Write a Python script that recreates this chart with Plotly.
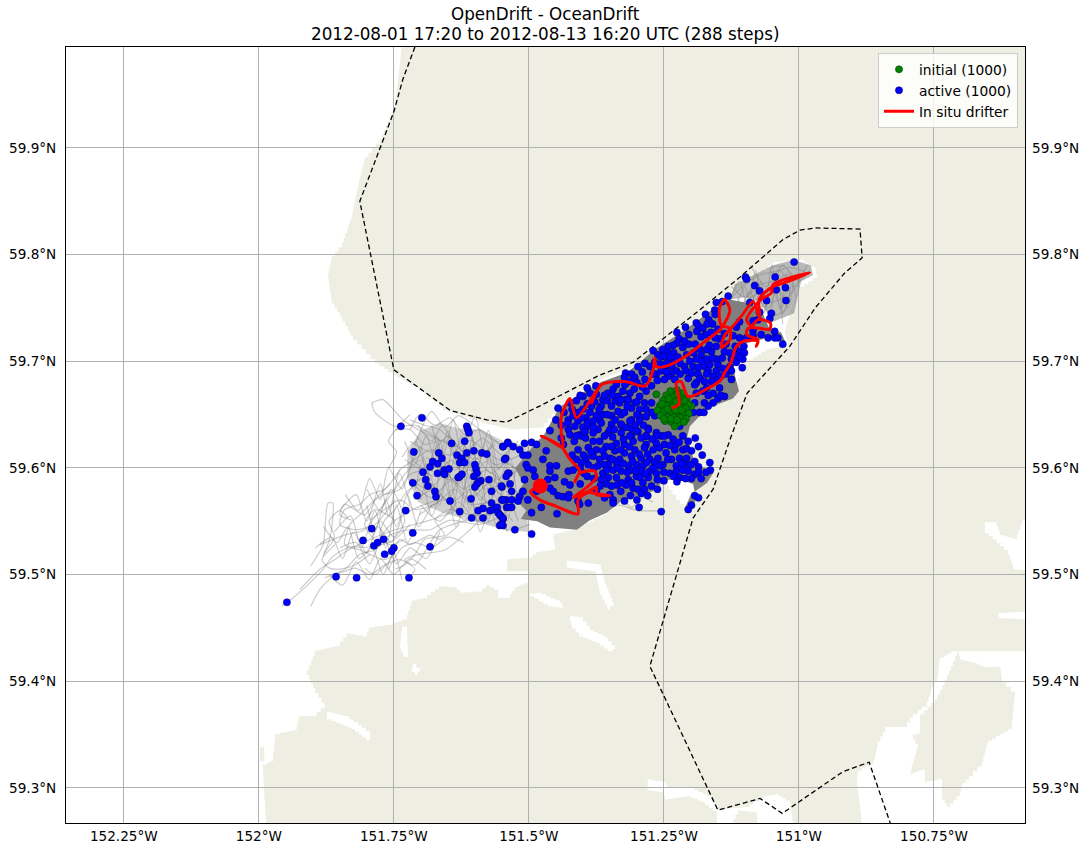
import plotly.graph_objects as go

# Map window and graticule
lon_range = [-152.357, -150.5815]
lat_range = [59.267, 59.9947]
lon_ticks = [-152.25, -152.0, -151.75, -151.5, -151.25, -151.0, -150.75]
lon_labels = ["152.25°W", "152°W", "151.75°W", "151.5°W", "151.25°W", "151°W", "150.75°W"]
lat_ticks = [59.3, 59.4, 59.5, 59.6, 59.7, 59.8, 59.9]
lat_labels = ["59.3°N", "59.4°N", "59.5°N", "59.6°N", "59.7°N", "59.8°N", "59.9°N"]
title_lines = ["OpenDrift - OceanDrift", "2012-08-01 17:20 to 2012-08-13 16:20 UTC (288 steps)"]

# Open water cut out of the land mask
water_main = [
    (-152.40, 60.02), (-151.730, 60.02), (-151.743, 59.957), (-151.750, 59.934), (-151.776, 59.904),
    (-151.804, 59.887), (-151.813, 59.870), (-151.828, 59.833), (-151.846, 59.807), (-151.865, 59.795),
    (-151.872, 59.779), (-151.865, 59.754), (-151.850, 59.742), (-151.826, 59.720), (-151.785, 59.698),
    (-151.752, 59.687), (-151.702, 59.673), (-151.659, 59.654), (-151.578, 59.641), (-151.535, 59.636),
    (-151.480, 59.638), (-151.443, 59.659), (-151.406, 59.673), (-151.369, 59.683), (-151.294, 59.699),
    (-151.239, 59.718), (-151.183, 59.744), (-151.128, 59.764), (-151.091, 59.776), (-151.048, 59.793),
    (-150.998, 59.795), (-150.970, 59.786), (-150.967, 59.778), (-150.998, 59.767), (-151.007, 59.758),
    (-151.017, 59.744), (-151.026, 59.725), (-151.020, 59.715), (-151.054, 59.711), (-151.100, 59.697),
    (-151.119, 59.671), (-151.170, 59.654), (-151.202, 59.639), (-151.207, 59.629), (-151.193, 59.605),
    (-151.159, 59.595), (-151.170, 59.586), (-151.193, 59.580), (-151.198, 59.559), (-151.220, 59.570),
    (-151.248, 59.589), (-151.270, 59.577), (-151.326, 59.570), (-151.356, 59.556), (-151.411, 59.542),
    (-151.456, 59.537), (-151.452, 59.523), (-151.480, 59.521), (-151.493, 59.516), (-151.539, 59.514),
    (-151.541, 59.503), (-151.502, 59.503), (-151.500, 59.492), (-151.522, 59.488), (-151.535, 59.478),
    (-151.557, 59.478), (-151.557, 59.486), (-151.572, 59.490), (-151.587, 59.484), (-151.622, 59.483),
    (-151.633, 59.488), (-151.659, 59.489), (-151.689, 59.478), (-151.715, 59.475), (-151.726, 59.458),
    (-151.752, 59.453), (-151.794, 59.450), (-151.800, 59.442), (-151.831, 59.445), (-151.850, 59.433),
    (-151.893, 59.428), (-151.911, 59.406), (-151.896, 59.389), (-151.878, 59.375), (-151.893, 59.367),
    (-151.924, 59.367), (-151.930, 59.354), (-151.969, 59.350), (-151.974, 59.325), (-151.993, 59.320),
    (-151.985, 59.25), (-152.40, 59.25),
]
water_east_bay = [
    (-150.55, 59.428), (-150.711, 59.428), (-150.739, 59.420), (-150.744, 59.400), (-150.752, 59.395),
    (-150.763, 59.376), (-150.789, 59.366), (-150.800, 59.357), (-150.835, 59.357), (-150.854, 59.339),
    (-150.859, 59.327), (-150.863, 59.322), (-150.891, 59.314), (-150.893, 59.303), (-150.887, 59.280),
    (-150.881, 59.25), (-150.55, 59.25),
]
water_east_top = [
    (-150.656, 59.549), (-150.637, 59.549), (-150.628, 59.537), (-150.600, 59.533), (-150.587, 59.551),
    (-150.55, 59.561), (-150.55, 59.503), (-150.600, 59.505), (-150.613, 59.523), (-150.641, 59.536),
    (-150.656, 59.542),
]
water_east_sliver = [(-150.631, 59.464), (-150.55, 59.466), (-150.55, 59.458), (-150.628, 59.459)]
water_south_band = [
    (-151.280, 59.308), (-151.250, 59.305), (-151.243, 59.300), (-151.202, 59.300), (-151.170, 59.292),
    (-151.150, 59.280), (-151.100, 59.282), (-151.067, 59.292), (-151.044, 59.294), (-151.017, 59.286),
    (-151.007, 59.25), (-151.072, 59.25), (-151.078, 59.277), (-151.109, 59.279), (-151.137, 59.25),
    (-151.150, 59.25), (-151.152, 59.278), (-151.174, 59.287), (-151.202, 59.292), (-151.244, 59.289),
    (-151.252, 59.296), (-151.280, 59.298),
]
water_inlet_a = [
    (-151.430, 59.513), (-151.369, 59.509), (-151.359, 59.491), (-151.343, 59.470), (-151.350, 59.467),
    (-151.369, 59.486), (-151.376, 59.503), (-151.430, 59.507),
]
water_inlet_b = [(-151.485, 59.483), (-151.443, 59.474), (-151.437, 59.469), (-151.457, 59.470), (-151.498, 59.482)]
water_inlet_c = [
    (-151.424, 59.461), (-151.406, 59.460), (-151.387, 59.448), (-151.359, 59.441), (-151.341, 59.430),
    (-151.346, 59.428), (-151.369, 59.436), (-151.400, 59.442), (-151.420, 59.453),
]
water_inlet_d = [(-151.735, 59.451), (-151.726, 59.451), (-151.724, 59.423), (-151.730, 59.423), (-151.739, 59.434)]
water_inlet_e = [
    (-151.874, 59.371), (-151.841, 59.367), (-151.817, 59.359), (-151.794, 59.350), (-151.794, 59.345),
    (-151.822, 59.355), (-151.850, 59.361), (-151.874, 59.366),
]
water_inlet_f = [(-151.715, 59.416), (-151.702, 59.409), (-151.706, 59.406), (-151.717, 59.411)]

# Land that sits inside the water cut-outs
island_east = [
    (-150.707, 59.428), (-150.702, 59.420), (-150.678, 59.417), (-150.656, 59.413), (-150.628, 59.414),
    (-150.624, 59.399), (-150.600, 59.386), (-150.606, 59.355), (-150.650, 59.342), (-150.661, 59.320),
    (-150.678, 59.311), (-150.698, 59.301), (-150.702, 59.292), (-150.720, 59.282), (-150.735, 59.292),
    (-150.735, 59.308), (-150.767, 59.305), (-150.767, 59.317), (-150.794, 59.312), (-150.791, 59.322),
    (-150.780, 59.341), (-150.789, 59.350), (-150.776, 59.352), (-150.776, 59.369), (-150.748, 59.383),
    (-150.730, 59.401),
]
islet_west = [(-151.998, 59.338), (-151.990, 59.338), (-151.990, 59.325), (-151.998, 59.325)]

# Simulation domain outline
domain_lon = [-151.711, -151.733, -151.750, -151.813, -151.750, -151.646, -151.578, -151.541, -151.480,
              -151.369, -151.307, -151.189, -151.109, -151.030, -150.998, -150.970, -150.887, -150.883,
              -150.915, -150.970, -151.017, -151.096, -151.128, -151.146, -151.159, -151.196, -151.276,
              -151.150, -151.072, -151.031, -150.919, -150.870, -150.831]
domain_lat = [59.9947, 59.965, 59.934, 59.850, 59.692, 59.654, 59.645, 59.643, 59.658,
              59.687, 59.699, 59.746, 59.779, 59.814, 59.823, 59.825, 59.824, 59.797,
              59.783, 59.750, 59.714, 59.670, 59.626, 59.598, 59.580, 59.553, 59.414,
              59.279, 59.290, 59.276, 59.315, 59.324, 59.267]

# Densely covered part of the particle tracks
track_core = [
    (-151.128, 59.758), (-151.165, 59.747), (-151.209, 59.730), (-151.270, 59.710), (-151.294, 59.699),
    (-151.320, 59.689), (-151.369, 59.680), (-151.413, 59.667), (-151.443, 59.657), (-151.457, 59.645),
    (-151.472, 59.631), (-151.490, 59.622), (-151.505, 59.612), (-151.525, 59.600), (-151.510, 59.585),
    (-151.528, 59.572), (-151.505, 59.560), (-151.515, 59.552), (-151.485, 59.550), (-151.461, 59.544),
    (-151.411, 59.542), (-151.387, 59.551),
    (-151.356, 59.558), (-151.326, 59.570), (-151.270, 59.578), (-151.248, 59.589), (-151.220, 59.589),
    (-151.196, 59.585), (-151.190, 59.570), (-151.206, 59.560), (-151.210, 59.564), (-151.200, 59.575),
    (-151.170, 59.586), (-151.159, 59.595), (-151.193, 59.605), (-151.207, 59.629), (-151.202, 59.639),
    (-151.170, 59.656), (-151.122, 59.665), (-151.111, 59.672), (-151.122, 59.693), (-151.105, 59.716),
    (-151.050, 59.723), (-151.024, 59.717), (-151.033, 59.727), (-151.054, 59.730), (-151.072, 59.750),
    (-151.100, 59.755),
]
track_web_ne = [
    (-151.128, 59.758), (-151.119, 59.772), (-151.095, 59.778), (-151.048, 59.790), (-151.011, 59.795),
    (-150.978, 59.790), (-150.974, 59.781), (-150.996, 59.775), (-151.009, 59.745), (-151.048, 59.737),
    (-151.072, 59.755), (-151.100, 59.760),
]
track_web_west = [
    (-151.725, 59.615), (-151.700, 59.635), (-151.665, 59.642), (-151.630, 59.637), (-151.590, 59.636),
    (-151.560, 59.628), (-151.535, 59.622), (-151.490, 59.622), (-151.510, 59.590), (-151.505, 59.560),
    (-151.500, 59.540), (-151.545, 59.542), (-151.600, 59.550), (-151.660, 59.558), (-151.705, 59.568),
    (-151.725, 59.590),
]

# Individual grey tracks in the sparse areas
drift_tracks = [
    [(-151.957, 59.471), (-151.937, 59.478), (-151.900, 59.495), (-151.881, 59.505), (-151.863, 59.517),
     (-151.831, 59.526), (-151.794, 59.526), (-151.752, 59.549), (-151.715, 59.561), (-151.670, 59.570)],
    [(-151.904, 59.508), (-151.881, 59.528), (-151.872, 59.567), (-151.863, 59.567), (-151.863, 59.554),
     (-151.869, 59.533), (-151.881, 59.517)],
    [(-151.791, 59.661), (-151.770, 59.664), (-151.733, 59.645), (-151.687, 59.631), (-151.646, 59.622)],
    [(-151.791, 59.661), (-151.785, 59.652), (-151.748, 59.639), (-151.711, 59.640), (-151.665, 59.626)],
    [(-151.554, 59.598), (-151.591, 59.617), (-151.628, 59.603), (-151.656, 59.626), (-151.693, 59.622),
     (-151.720, 59.636), (-151.748, 59.636)],
    [(-151.535, 59.589), (-151.581, 59.580), (-151.609, 59.598), (-151.646, 59.589), (-151.683, 59.598),
     (-151.720, 59.594), (-151.739, 59.580), (-151.767, 59.575)],
    [(-151.554, 59.570), (-151.609, 59.566), (-151.637, 59.580), (-151.674, 59.566), (-151.711, 59.561),
     (-151.739, 59.570), (-151.767, 59.561), (-151.794, 59.551)],
    [(-151.544, 59.556), (-151.591, 59.547), (-151.646, 59.551), (-151.683, 59.542), (-151.720, 59.542),
     (-151.757, 59.537), (-151.785, 59.523), (-151.813, 59.519), (-151.841, 59.505), (-151.878, 59.497)],
    [(-151.517, 59.598), (-151.572, 59.612), (-151.609, 59.626), (-151.646, 59.612), (-151.683, 59.617),
     (-151.711, 59.608), (-151.739, 59.598), (-151.748, 59.589)],
    [(-151.563, 59.622), (-151.600, 59.608), (-151.637, 59.622), (-151.665, 59.636), (-151.693, 59.640),
     (-151.720, 59.645)],
    [(-151.535, 59.570), (-151.572, 59.556), (-151.609, 59.556), (-151.646, 59.561), (-151.674, 59.551),
     (-151.656, 59.537), (-151.693, 59.533), (-151.711, 59.519), (-151.730, 59.509), (-151.748, 59.505)],
    [(-151.628, 59.547), (-151.665, 59.533), (-151.683, 59.537), (-151.720, 59.528), (-151.739, 59.533),
     (-151.757, 59.514), (-151.785, 59.500), (-151.804, 59.506)],
    [(-151.702, 59.589), (-151.730, 59.575), (-151.748, 59.561), (-151.767, 59.551), (-151.776, 59.537),
     (-151.757, 59.528), (-151.730, 59.533)],
    [(-151.739, 59.598), (-151.767, 59.580), (-151.794, 59.575), (-151.813, 59.566), (-151.841, 59.561),
     (-151.850, 59.547), (-151.822, 59.542), (-151.785, 59.547), (-151.748, 59.570)],
    [(-151.748, 59.580), (-151.785, 59.570), (-151.813, 59.556), (-151.831, 59.547), (-151.841, 59.528),
     (-151.813, 59.523), (-151.767, 59.514), (-151.748, 59.519)],
    [(-151.748, 59.551), (-151.785, 59.561), (-151.804, 59.547), (-151.776, 59.528), (-151.748, 59.533),
     (-151.720, 59.547)],
    [(-151.794, 59.519), (-151.822, 59.509), (-151.850, 59.505), (-151.869, 59.506), (-151.883, 59.514),
     (-151.859, 59.528)],
    [(-151.720, 59.636), (-151.702, 59.650), (-151.674, 59.640), (-151.646, 59.647), (-151.619, 59.631),
     (-151.591, 59.636), (-151.554, 59.622)],
    [(-151.711, 59.622), (-151.680, 59.653), (-151.656, 59.638), (-151.631, 59.649), (-151.609, 59.643),
     (-151.572, 59.628), (-151.535, 59.617)],
    [(-151.730, 59.608), (-151.693, 59.598), (-151.665, 59.612), (-151.637, 59.598), (-151.600, 59.617),
     (-151.563, 59.603), (-151.517, 59.612)],
    [(-151.720, 59.589), (-151.683, 59.580), (-151.656, 59.594), (-151.619, 59.580), (-151.581, 59.598),
     (-151.535, 59.580)],
    [(-151.711, 59.570), (-151.674, 59.580), (-151.646, 59.566), (-151.609, 59.580), (-151.572, 59.566),
     (-151.526, 59.566)],
    [(-151.702, 59.556), (-151.656, 59.570), (-151.619, 59.551), (-151.572, 59.570), (-151.544, 59.542),
     (-151.498, 59.547)],
    [(-151.887, 59.528), (-151.841, 59.537), (-151.804, 59.542), (-151.776, 59.561), (-151.748, 59.580),
     (-151.730, 59.594), (-151.702, 59.608)],
    [(-151.924, 59.486), (-151.887, 59.505), (-151.859, 59.514), (-151.841, 59.521), (-151.794, 59.533),
     (-151.748, 59.542), (-151.683, 59.551), (-151.628, 59.561)],
    [(-151.904, 59.470), (-151.887, 59.486), (-151.859, 59.500), (-151.841, 59.503), (-151.822, 59.506),
     (-151.794, 59.500), (-151.767, 59.509), (-151.739, 59.514), (-151.711, 59.509), (-151.665, 59.542),
     (-151.609, 59.551)],
    [(-151.828, 59.551), (-151.850, 59.556), (-151.841, 59.566), (-151.804, 59.556), (-151.785, 59.570),
     (-151.757, 59.585)],
    [(-151.722, 59.497), (-151.711, 59.505), (-151.730, 59.514), (-151.702, 59.519), (-151.656, 59.523),
     (-151.609, 59.542), (-151.591, 59.551)],
    [(-151.128, 59.758), (-151.100, 59.772), (-151.072, 59.781), (-151.044, 59.784), (-151.017, 59.788),
     (-150.989, 59.784)],
    [(-151.119, 59.748), (-151.082, 59.762), (-151.054, 59.767), (-151.026, 59.781), (-150.998, 59.776),
     (-151.017, 59.762), (-151.035, 59.748)],
    [(-151.100, 59.758), (-151.072, 59.772), (-151.044, 59.776), (-151.054, 59.787), (-151.026, 59.790)],
    [(-151.091, 59.744), (-151.063, 59.753), (-151.035, 59.758), (-151.017, 59.767), (-151.026, 59.748),
     (-151.054, 59.741)],
    [(-151.720, 59.600), (-151.700, 59.620), (-151.690, 59.590), (-151.670, 59.630), (-151.655, 59.585),
     (-151.640, 59.625), (-151.620, 59.580), (-151.605, 59.630), (-151.590, 59.575), (-151.570, 59.620),
     (-151.555, 59.570), (-151.535, 59.610), (-151.520, 59.565)],
    [(-151.710, 59.580), (-151.695, 59.610), (-151.675, 59.570), (-151.660, 59.615), (-151.640, 59.560),
     (-151.625, 59.610), (-151.610, 59.560), (-151.590, 59.600), (-151.575, 59.550), (-151.560, 59.595),
     (-151.540, 59.550), (-151.525, 59.600)],
    [(-151.730, 59.625), (-151.710, 59.605), (-151.690, 59.630), (-151.670, 59.600), (-151.650, 59.635),
     (-151.630, 59.600), (-151.610, 59.640), (-151.595, 59.600), (-151.575, 59.635), (-151.555, 59.600),
     (-151.530, 59.625)],
    [(-151.700, 59.570), (-151.685, 59.595), (-151.665, 59.565), (-151.650, 59.600), (-151.630, 59.555),
     (-151.615, 59.590), (-151.595, 59.550), (-151.580, 59.585), (-151.560, 59.545), (-151.545, 59.580),
     (-151.520, 59.550)],
    [(-151.720, 59.625), (-151.680, 59.615), (-151.650, 59.630), (-151.620, 59.615), (-151.585, 59.628),
     (-151.550, 59.612), (-151.520, 59.625)],
    [(-151.710, 59.605), (-151.675, 59.592), (-151.645, 59.607), (-151.610, 59.590), (-151.580, 59.606),
     (-151.550, 59.590), (-151.515, 59.600)],
    [(-151.715, 59.585), (-151.680, 59.572), (-151.645, 59.588), (-151.610, 59.570), (-151.575, 59.585),
     (-151.540, 59.570), (-151.510, 59.580)],
    [(-151.700, 59.565), (-151.665, 59.550), (-151.630, 59.568), (-151.595, 59.550), (-151.560, 59.565),
     (-151.530, 59.550)],
    [(-151.680, 59.640), (-151.660, 59.610), (-151.640, 59.645), (-151.625, 59.615), (-151.600, 59.648),
     (-151.585, 59.615)],
    [(-151.850, 59.560), (-151.820, 59.575), (-151.800, 59.550), (-151.775, 59.585), (-151.760, 59.555),
     (-151.740, 59.595), (-151.720, 59.565)],
    [(-151.860, 59.540), (-151.830, 59.555), (-151.810, 59.525), (-151.785, 59.560), (-151.765, 59.525),
     (-151.745, 59.565), (-151.725, 59.530), (-151.700, 59.560)],
    [(-151.850, 59.525), (-151.820, 59.530), (-151.795, 59.510), (-151.770, 59.535), (-151.745, 59.510),
     (-151.720, 59.525), (-151.690, 59.515), (-151.665, 59.540)],
    [(-151.800, 59.580), (-151.775, 59.560), (-151.755, 59.580), (-151.730, 59.550), (-151.750, 59.535),
     (-151.775, 59.550), (-151.790, 59.535)],
    [(-151.835, 59.553), (-151.850, 59.560), (-151.870, 59.550), (-151.860, 59.535), (-151.880, 59.520)],
    [(-151.760, 59.600), (-151.745, 59.615), (-151.760, 59.625), (-151.740, 59.640), (-151.720, 59.650)],
    [(-151.130, 59.755), (-151.110, 59.775), (-151.095, 59.750), (-151.080, 59.785), (-151.065, 59.745),
     (-151.050, 59.790), (-151.035, 59.750), (-151.020, 59.785), (-151.005, 59.760)],
    [(-151.120, 59.745), (-151.100, 59.770), (-151.085, 59.740), (-151.070, 59.775), (-151.055, 59.740),
     (-151.040, 59.780), (-151.030, 59.735)],
    [(-151.090, 59.790), (-151.060, 59.770), (-151.030, 59.790), (-151.000, 59.775), (-150.980, 59.785)],
    [(-151.350, 59.565), (-151.330, 59.565), (-151.300, 59.560), (-151.255, 59.560)],
    [(-151.330, 59.575), (-151.310, 59.563), (-151.290, 59.572), (-151.270, 59.568)],
    [(-151.880, 59.545), (-151.855, 59.530), (-151.835, 59.545), (-151.815, 59.515), (-151.790, 59.525),
     (-151.770, 59.500), (-151.750, 59.520), (-151.735, 59.495)],
    [(-151.895, 59.525), (-151.865, 59.535), (-151.845, 59.515), (-151.825, 59.540), (-151.800, 59.520),
     (-151.780, 59.545), (-151.755, 59.530), (-151.735, 59.555)],
    [(-151.840, 59.575), (-151.815, 59.560), (-151.795, 59.590), (-151.775, 59.570), (-151.760, 59.600),
     (-151.735, 59.580), (-151.715, 59.610)],
    [(-151.800, 59.565), (-151.785, 59.540), (-151.765, 59.570), (-151.745, 59.545), (-151.725, 59.575),
     (-151.705, 59.545), (-151.680, 59.565)],
    [(-151.870, 59.500), (-151.845, 59.490), (-151.820, 59.512), (-151.795, 59.495), (-151.775, 59.515),
     (-151.750, 59.500), (-151.720, 59.515), (-151.690, 59.505)],
    [(-151.760, 59.505), (-151.735, 59.525), (-151.710, 59.530), (-151.680, 59.525), (-151.650, 59.535),
     (-151.620, 59.530)],
    [(-151.735, 59.610), (-151.710, 59.625), (-151.690, 59.600), (-151.665, 59.625), (-151.650, 59.590),
     (-151.625, 59.630), (-151.600, 59.590), (-151.580, 59.625), (-151.560, 59.585), (-151.535, 59.615)],
    [(-151.725, 59.575), (-151.700, 59.590), (-151.680, 59.555), (-151.655, 59.585), (-151.635, 59.545),
     (-151.610, 59.580), (-151.590, 59.540), (-151.565, 59.575), (-151.540, 59.540)],
    [(-151.705, 59.640), (-151.680, 59.625), (-151.660, 59.640), (-151.635, 59.620), (-151.610, 59.632),
     (-151.590, 59.610), (-151.565, 59.625)],
    [(-151.690, 59.610), (-151.660, 59.600), (-151.630, 59.585), (-151.600, 59.610), (-151.570, 59.595),
     (-151.540, 59.605), (-151.510, 59.590)],
    [(-151.680, 59.585), (-151.650, 59.570), (-151.620, 59.600), (-151.590, 59.570), (-151.560, 59.590),
     (-151.530, 59.575)],
    [(-151.115, 59.760), (-151.095, 59.745), (-151.075, 59.770), (-151.055, 59.750), (-151.040, 59.770),
     (-151.020, 59.750), (-151.010, 59.775)],
    [(-151.125, 59.770), (-151.100, 59.760), (-151.080, 59.775), (-151.060, 59.760), (-151.035, 59.785),
     (-151.010, 59.770), (-150.985, 59.790)],
    [(-151.110, 59.745), (-151.090, 59.765), (-151.070, 59.740), (-151.050, 59.770), (-151.030, 59.745),
     (-151.015, 59.770)],
]

# Particles at the first time step
initial_points = [
    (-151.264, 59.669), (-151.199, 59.658), (-151.238, 59.672), (-151.226, 59.673), (-151.215, 59.670),
    (-151.246, 59.668), (-151.232, 59.667), (-151.220, 59.666), (-151.208, 59.665), (-151.252, 59.663),
    (-151.240, 59.663), (-151.228, 59.662), (-151.216, 59.661), (-151.205, 59.660), (-151.258, 59.658),
    (-151.246, 59.658), (-151.234, 59.657), (-151.222, 59.657), (-151.210, 59.656), (-151.262, 59.654),
    (-151.250, 59.653), (-151.238, 59.652), (-151.226, 59.652), (-151.214, 59.651), (-151.204, 59.651),
    (-151.256, 59.649), (-151.244, 59.648), (-151.232, 59.648), (-151.220, 59.647), (-151.209, 59.646),
    (-151.248, 59.644), (-151.236, 59.643), (-151.224, 59.642), (-151.213, 59.643), (-151.230, 59.639),
    (-151.241, 59.665), (-151.225, 59.669), (-151.254, 59.660), (-151.212, 59.663), (-151.243, 59.655),
    (-151.229, 59.654), (-151.217, 59.654), (-151.237, 59.646), (-151.226, 59.645), (-151.250, 59.646),
]

# Particles at the last time step, west to east
active_west = [
    (-151.948, 59.474), (-151.857, 59.498), (-151.819, 59.497), (-151.722, 59.497), (-151.791, 59.543),
    (-151.807, 59.532), (-151.787, 59.527), (-151.780, 59.530), (-151.769, 59.533), (-151.750, 59.525),
    (-151.754, 59.522), (-151.767, 59.519), (-151.715, 59.539), (-151.683, 59.526), (-151.728, 59.560),
    (-151.707, 59.574), (-151.674, 59.578), (-151.672, 59.573), (-151.687, 59.583), (-151.691, 59.589),
    (-151.715, 59.586), (-151.696, 59.596), (-151.713, 59.615), (-151.737, 59.639), (-151.698, 59.647),
    (-151.683, 59.601), (-151.678, 59.606), (-151.667, 59.614), (-151.661, 59.609), (-151.669, 59.604),
    (-151.669, 59.595), (-151.657, 59.598), (-151.656, 59.594), (-151.648, 59.599), (-151.643, 59.623),
    (-151.619, 59.625), (-151.615, 59.639), (-151.613, 59.636), (-151.611, 59.633), (-151.633, 59.612),
    (-151.624, 59.609), (-151.628, 59.605), (-151.619, 59.605), (-151.615, 59.614), (-151.602, 59.616),
    (-151.587, 59.614), (-151.578, 59.613), (-151.548, 59.620), (-151.539, 59.624), (-151.543, 59.609),
    (-151.600, 59.603), (-151.598, 59.599), (-151.596, 59.595), (-151.631, 59.591), (-151.628, 59.592),
    (-151.624, 59.594), (-151.602, 59.592), (-151.589, 59.588), (-151.593, 59.587), (-151.596, 59.585),
    (-151.600, 59.582), (-151.574, 59.589), (-151.550, 59.582), (-151.569, 59.578), (-151.646, 59.569),
    (-151.607, 59.571), (-151.628, 59.559), (-151.606, 59.553), (-151.594, 59.560), (-151.585, 59.562),
    (-151.585, 59.553), (-151.569, 59.567), (-151.550, 59.570), (-151.572, 59.560), (-151.565, 59.561),
    (-151.559, 59.563), (-151.557, 59.558), (-151.552, 59.555), (-151.548, 59.552), (-151.554, 59.546),
    (-151.548, 59.546), (-151.541, 59.563), (-151.537, 59.595),
]
active_lower = [
    (-151.548, 59.620), (-151.539, 59.623), (-151.529, 59.620), (-151.517, 59.617), (-151.508, 59.623),
    (-151.495, 59.624), (-151.486, 59.622), (-151.511, 59.612), (-151.502, 59.612), (-151.545, 59.608),
    (-151.505, 59.603), (-151.502, 59.600), (-151.474, 59.608), (-151.461, 59.602), (-151.449, 59.602),
    (-151.539, 59.595), (-151.542, 59.592), (-151.492, 59.598), (-151.461, 59.597), (-151.508, 59.589),
    (-151.489, 59.592), (-151.465, 59.589), (-151.452, 59.591), (-151.434, 59.587), (-151.424, 59.584),
    (-151.535, 59.585), (-151.551, 59.583), (-151.532, 59.578), (-151.511, 59.578), (-151.517, 59.573),
    (-151.520, 59.569), (-151.502, 59.570), (-151.486, 59.578), (-151.461, 59.581), (-151.455, 59.578),
    (-151.446, 59.574), (-151.437, 59.573), (-151.426, 59.575), (-151.427, 59.572), (-151.409, 59.569),
    (-151.406, 59.566), (-151.390, 59.567), (-151.344, 59.570), (-151.323, 59.569), (-151.542, 59.570),
    (-151.532, 59.570), (-151.548, 59.570), (-151.539, 59.563), (-151.532, 59.563), (-151.554, 59.556),
    (-151.548, 59.553), (-151.551, 59.547), (-151.477, 59.563), (-151.495, 59.558), (-151.448, 59.557),
    (-151.526, 59.542), (-151.495, 59.538), (-151.296, 59.563), (-151.255, 59.559), (-151.193, 59.574),
    (-151.186, 59.572), (-151.199, 59.565), (-151.205, 59.561), (-151.350, 59.575), (-151.344, 59.567),
]
active_central = [
    (-151.381, 59.625), (-151.369, 59.625), (-151.357, 59.620), (-151.338, 59.623), (-151.323, 59.622),
    (-151.307, 59.625), (-151.283, 59.622), (-151.264, 59.623), (-151.249, 59.622), (-151.233, 59.627),
    (-151.205, 59.625), (-151.468, 59.616), (-151.409, 59.617), (-151.390, 59.619), (-151.375, 59.617),
    (-151.363, 59.616), (-151.341, 59.616), (-151.323, 59.614), (-151.304, 59.617), (-151.286, 59.619),
    (-151.270, 59.617), (-151.246, 59.614), (-151.230, 59.617), (-151.215, 59.617), (-151.199, 59.616),
    (-151.412, 59.608), (-151.394, 59.609), (-151.381, 59.611), (-151.369, 59.608), (-151.350, 59.609),
    (-151.332, 59.608), (-151.310, 59.611), (-151.292, 59.609), (-151.276, 59.608), (-151.261, 59.609),
    (-151.236, 59.608), (-151.221, 59.609), (-151.208, 59.609), (-151.193, 59.606), (-151.165, 59.605),
    (-151.403, 59.605), (-151.390, 59.603), (-151.372, 59.602), (-151.353, 59.603), (-151.338, 59.605),
    (-151.316, 59.602), (-151.301, 59.603), (-151.289, 59.602), (-151.267, 59.605), (-151.252, 59.603),
    (-151.227, 59.602), (-151.212, 59.603), (-151.164, 59.598), (-151.427, 59.597), (-151.418, 59.598),
    (-151.363, 59.595), (-151.344, 59.598), (-151.329, 59.597), (-151.310, 59.598), (-151.292, 59.597),
    (-151.276, 59.597), (-151.264, 59.595), (-151.239, 59.595), (-151.227, 59.597), (-151.205, 59.597),
    (-151.193, 59.594), (-151.181, 59.590), (-151.221, 59.591), (-151.366, 59.589), (-151.353, 59.591),
    (-151.338, 59.591), (-151.316, 59.589), (-151.301, 59.592), (-151.279, 59.591), (-151.320, 59.584),
    (-151.337, 59.584), (-151.347, 59.583), (-151.289, 59.586), (-151.273, 59.583), (-151.307, 59.581),
    (-151.298, 59.580), (-151.286, 59.580), (-151.292, 59.576), (-151.427, 59.645), (-151.409, 59.644),
    (-151.394, 59.647), (-151.369, 59.645), (-151.347, 59.641), (-151.329, 59.650), (-151.310, 59.645),
    (-151.295, 59.648), (-151.279, 59.637), (-151.264, 59.633), (-151.255, 59.630), (-151.242, 59.631),
    (-151.221, 59.639), (-151.427, 59.636), (-151.406, 59.631), (-151.390, 59.639), (-151.372, 59.636),
    (-151.353, 59.633), (-151.329, 59.640), (-151.310, 59.637), (-151.298, 59.634), (-151.310, 59.630),
    (-151.283, 59.630), (-151.273, 59.677), (-151.283, 59.672), (-151.295, 59.667), (-151.286, 59.661),
    (-151.273, 59.661), (-151.267, 59.649), (-151.283, 59.655), (-151.295, 59.655), (-151.304, 59.661),
    (-151.313, 59.670), (-151.326, 59.672), (-151.335, 59.667), (-151.344, 59.674), (-151.354, 59.670),
    (-151.363, 59.664), (-151.375, 59.669), (-151.387, 59.670), (-151.400, 59.667), (-151.412, 59.663),
    (-151.424, 59.661), (-151.446, 59.656), (-151.400, 59.655), (-151.384, 59.658), (-151.366, 59.658),
    (-151.347, 59.658), (-151.332, 59.661), (-151.320, 59.664), (-151.310, 59.656), (-151.323, 59.652),
    (-151.335, 59.653), (-151.347, 59.649), (-151.363, 59.650), (-151.375, 59.649), (-151.387, 59.652),
    (-151.403, 59.647), (-151.418, 59.649), (-151.428, 59.642), (-151.415, 59.639), (-151.400, 59.638),
    (-151.381, 59.644), (-151.366, 59.642), (-151.350, 59.636), (-151.329, 59.641), (-151.313, 59.644),
    (-151.295, 59.644), (-151.279, 59.636), (-151.283, 59.630), (-151.301, 59.635), (-151.313, 59.630),
    (-151.329, 59.633), (-151.381, 59.633), (-151.403, 59.630), (-151.424, 59.631), (-151.461, 59.635),
    (-151.264, 59.630), (-151.249, 59.630), (-151.215, 59.630),
]
active_upper = [
    (-151.009, 59.793), (-151.099, 59.779), (-151.097, 59.777), (-151.044, 59.779), (-151.082, 59.771),
    (-151.073, 59.766), (-151.042, 59.767), (-151.025, 59.769), (-151.024, 59.757), (-151.060, 59.757),
    (-151.091, 59.755), (-151.131, 59.761), (-151.153, 59.755), (-151.142, 59.756), (-151.156, 59.748),
    (-151.155, 59.744), (-151.173, 59.744), (-151.167, 59.739), (-151.190, 59.736), (-151.186, 59.733),
    (-151.178, 59.731), (-151.173, 59.725), (-151.181, 59.723), (-151.189, 59.728), (-151.210, 59.732),
    (-151.226, 59.727), (-151.204, 59.725), (-151.222, 59.721), (-151.226, 59.717), (-151.204, 59.716),
    (-151.215, 59.713), (-151.233, 59.715), (-151.242, 59.714), (-151.252, 59.711), (-151.270, 59.710),
    (-151.261, 59.706), (-151.255, 59.704), (-151.242, 59.708), (-151.232, 59.708), (-151.224, 59.704),
    (-151.298, 59.695), (-151.321, 59.689), (-151.310, 59.688), (-151.323, 59.685), (-151.313, 59.681),
    (-151.304, 59.685), (-151.054, 59.740), (-151.051, 59.745), (-151.073, 59.746), (-151.076, 59.739),
    (-151.085, 59.738), (-151.110, 59.737), (-151.116, 59.732), (-151.085, 59.729), (-151.045, 59.728),
    (-151.057, 59.722), (-151.045, 59.722), (-151.039, 59.722), (-151.030, 59.716), (-151.070, 59.725),
    (-151.085, 59.724), (-151.097, 59.722), (-151.110, 59.722), (-151.102, 59.714), (-151.110, 59.709),
    (-151.101, 59.708), (-151.116, 59.706), (-151.125, 59.702), (-151.104, 59.702), (-151.116, 59.699),
    (-151.105, 59.694), (-151.128, 59.695), (-151.125, 59.691), (-151.135, 59.688), (-151.125, 59.683),
    (-151.147, 59.721), (-151.138, 59.709), (-151.153, 59.714), (-151.162, 59.709), (-151.171, 59.711),
    (-151.153, 59.702), (-151.171, 59.702), (-151.181, 59.706), (-151.190, 59.702), (-151.202, 59.700),
    (-151.196, 59.695), (-151.212, 59.695), (-151.209, 59.691), (-151.187, 59.694), (-151.175, 59.695),
    (-151.168, 59.691), (-151.153, 59.691), (-151.159, 59.686), (-151.150, 59.683), (-151.162, 59.681),
    (-151.171, 59.688), (-151.187, 59.688), (-151.199, 59.689), (-151.190, 59.680), (-151.227, 59.691),
    (-151.236, 59.689), (-151.246, 59.692), (-151.255, 59.691), (-151.264, 59.688), (-151.242, 59.686),
    (-151.249, 59.683), (-151.267, 59.699), (-151.242, 59.700), (-151.276, 59.695), (-151.171, 59.675),
    (-151.147, 59.675), (-151.138, 59.667), (-151.159, 59.670), (-151.159, 59.661), (-151.175, 59.661),
    (-151.193, 59.661), (-151.184, 59.652), (-151.193, 59.678),
]
active_between = [
    (-151.395, 59.628), (-151.345, 59.629), (-151.325, 59.627), (-151.292, 59.628), (-151.272, 59.627),
    (-151.228, 59.622), (-151.192, 59.628), (-151.436, 59.622), (-151.416, 59.625), (-151.399, 59.612),
    (-151.385, 59.615), (-151.360, 59.611), (-151.347, 59.620), (-151.330, 59.617), (-151.314, 59.620),
    (-151.296, 59.613), (-151.280, 59.613), (-151.258, 59.619), (-151.239, 59.621), (-151.222, 59.624),
    (-151.208, 59.618), (-151.186, 59.620), (-151.179, 59.612), (-151.420, 59.612), (-151.405, 59.600),
    (-151.380, 59.600), (-151.360, 59.603), (-151.345, 59.608), (-151.325, 59.604), (-151.308, 59.606),
    (-151.282, 59.605), (-151.258, 59.602), (-151.243, 59.608), (-151.218, 59.604), (-151.200, 59.603),
    (-151.186, 59.601), (-151.172, 59.596), (-151.398, 59.595), (-151.380, 59.590), (-151.356, 59.598),
    (-151.336, 59.600), (-151.318, 59.596), (-151.302, 59.597), (-151.284, 59.595), (-151.270, 59.600),
    (-151.250, 59.596), (-151.232, 59.592), (-151.215, 59.598), (-151.199, 59.590), (-151.186, 59.596),
    (-151.368, 59.583), (-151.356, 59.585), (-151.328, 59.586), (-151.310, 59.586), (-151.294, 59.591),
    (-151.262, 59.589), (-151.250, 59.588), (-151.226, 59.587), (-151.210, 59.590), (-151.405, 59.585),
    (-151.392, 59.592), (-151.375, 59.578), (-151.360, 59.572), (-151.330, 59.578), (-151.312, 59.574),
    (-151.300, 59.570), (-151.280, 59.574), (-151.262, 59.580), (-151.450, 59.645), (-151.440, 59.640),
    (-151.435, 59.652), (-151.420, 59.655), (-151.408, 59.652), (-151.392, 59.660), (-151.378, 59.662),
    (-151.355, 59.663), (-151.340, 59.663), (-151.318, 59.658), (-151.300, 59.650), (-151.283, 59.648),
    (-151.272, 59.652), (-151.340, 59.645), (-151.355, 59.650), (-151.370, 59.655), (-151.392, 59.642),
    (-151.380, 59.638), (-151.360, 59.630), (-151.342, 59.636), (-151.320, 59.638), (-151.303, 59.640),
    (-151.288, 59.640), (-151.440, 59.628), (-151.412, 59.630), (-151.396, 59.634), (-151.405, 59.668),
    (-151.392, 59.675), (-151.376, 59.677), (-151.360, 59.668), (-151.345, 59.668), (-151.330, 59.664),
    (-151.316, 59.664), (-151.300, 59.662), (-151.305, 59.674), (-151.322, 59.678), (-151.338, 59.678),
    (-151.300, 59.680), (-151.285, 59.683), (-151.290, 59.676), (-151.290, 59.690), (-151.285, 59.698),
    (-151.270, 59.688), (-151.262, 59.682), (-151.258, 59.697), (-151.248, 59.697), (-151.235, 59.696),
    (-151.232, 59.702), (-151.220, 59.698), (-151.220, 59.688), (-151.230, 59.683), (-151.205, 59.684),
    (-151.208, 59.706), (-151.195, 59.708), (-151.184, 59.712), (-151.192, 59.716), (-151.212, 59.719),
    (-151.238, 59.704), (-151.250, 59.705), (-151.245, 59.690), (-151.180, 59.700), (-151.183, 59.684),
    (-151.175, 59.681), (-151.165, 59.697), (-151.160, 59.703), (-151.150, 59.697), (-151.142, 59.703),
    (-151.140, 59.693), (-151.145, 59.686), (-151.166, 59.715), (-151.155, 59.722), (-151.135, 59.716),
    (-151.128, 59.708), (-151.118, 59.714), (-151.122, 59.724), (-151.138, 59.726), (-151.110, 59.704),
    (-151.163, 59.727), (-151.170, 59.735), (-151.160, 59.735), (-151.150, 59.730), (-151.178, 59.672),
    (-151.168, 59.668), (-151.150, 59.665), (-151.145, 59.668), (-151.190, 59.670), (-151.196, 59.652),
    (-151.176, 59.652), (-151.168, 59.658),
]

# Observed drifter, start at the seeding point
drifter_lon = [-151.236, -151.222, -151.227, -151.218, -151.205, -151.171, -151.144, -151.138, -151.125, -151.116,
               -151.101, -151.076, -151.079, -151.076, -151.097, -151.094, -151.073, -151.054, -151.053, -151.076,
               -151.088, -151.097, -151.070, -151.051, -151.048, -150.980, -151.030, -151.048, -151.073, -151.073,
               -151.085, -151.104, -151.122, -151.138, -151.144, -151.128, -151.128, -151.144, -151.147, -151.138,
               -151.128, -151.144, -151.178, -151.209, -151.249, -151.264, -151.267, -151.270, -151.284, -151.323,
               -151.366, -151.384, -151.375, -151.412, -151.424, -151.440, -151.440, -151.437, -151.461, -151.477,
               -151.440, -151.424, -151.409, -151.406, -151.415, -151.406, -151.378, -151.375, -151.390, -151.418,
               -151.390, -151.375, -151.375, -151.350, -151.378, -151.390, -151.409, -151.409, -151.421, -151.449,
               -151.480, -151.497, -151.479]
drifter_lat = [59.656, 59.660, 59.680, 59.681, 59.667, 59.674, 59.683, 59.689, 59.700, 59.714,
               59.719, 59.719, 59.714, 59.720, 59.725, 59.731, 59.731, 59.730, 59.736, 59.739,
               59.733, 59.739, 59.758, 59.764, 59.772, 59.783, 59.773, 59.770, 59.759, 59.741,
               59.756, 59.744, 59.733, 59.724, 59.713, 59.720, 59.731, 59.734, 59.750, 59.758,
               59.748, 59.731, 59.717, 59.705, 59.695, 59.695, 59.703, 59.692, 59.677, 59.681,
               59.678, 59.661, 59.672, 59.647, 59.665, 59.648, 59.633, 59.619, 59.626, 59.630,
               59.620, 59.608, 59.600, 59.597, 59.587, 59.595, 59.597, 59.591, 59.583, 59.572,
               59.578, 59.582, 59.575, 59.574, 59.576, 59.577, 59.570, 59.557, 59.558, 59.564,
               59.570, 59.578, 59.583]
drifter_end = (-151.479, 59.583)


def stepped_path(points, cell_lon=0.0088, cell_lat=0.0048):
    # blocky outline, the land mask is a raster
    parts = ["M {},{}".format(*points[0])]
    closed = points + [points[0]]
    for (x0, y0), (x1, y1) in zip(closed[:-1], closed[1:]):
        steps = int(max(abs(x1 - x0) / cell_lon, abs(y1 - y0) / cell_lat)) + 1
        for k in range(1, steps + 1):
            parts.append("H {:.4f} V {:.4f}".format(x0 + (x1 - x0) * k / steps, y0 + (y1 - y0) * k / steps))
    return " ".join(parts) + " Z"


def mask_shape(points, color):
    return dict(type="path", path=stepped_path(points), fillcolor=color, line=dict(width=0),
                layer="below", xref="x", yref="y")


LAND = "#eeeee2"
shapes = [dict(type="rect", x0=lon_range[0], x1=lon_range[1], y0=lat_range[0], y1=lat_range[1],
               fillcolor=LAND, line=dict(width=0), layer="below", xref="x", yref="y")]
for water in [water_main, water_east_bay, water_east_top, water_east_sliver, water_south_band,
              water_inlet_a, water_inlet_b, water_inlet_c, water_inlet_d, water_inlet_e, water_inlet_f]:
    shapes.append(mask_shape(water, "white"))
for island in [island_east, islet_west]:
    shapes.append(mask_shape(island, LAND))

fig = go.Figure()

# tracks
for area, alpha in [(track_web_ne, 0.55), (track_web_west, 0.38), (track_core, 1.0)]:
    fig.add_trace(go.Scatter(
        x=[p[0] for p in area], y=[p[1] for p in area], mode="lines", fill="toself",
        fillcolor="rgba(128,128,128,{})".format(alpha), line=dict(width=0), hoverinfo="skip", showlegend=False,
    ))
for track in drift_tracks:
    fig.add_trace(go.Scatter(
        x=[p[0] for p in track], y=[p[1] for p in track], mode="lines",
        line=dict(color="rgba(128,128,128,0.4)", width=1.2, shape="spline", smoothing=0.7),
        hoverinfo="skip", showlegend=False,
    ))

# domain outline
fig.add_trace(go.Scatter(
    x=domain_lon, y=domain_lat, mode="lines",
    line=dict(color="black", width=1.3, dash="5px,3px"), hoverinfo="skip", showlegend=False,
))

active = active_west + active_lower + active_central + active_upper + active_between
fig.add_trace(go.Scatter(
    x=[p[0] for p in active], y=[p[1] for p in active], mode="markers",
    name="active (1000)", legendrank=2,
    marker=dict(color="#0000ff", size=7.2, line=dict(color="rgba(0,0,80,0.8)", width=0.6)),
))
fig.add_trace(go.Scatter(
    x=[p[0] for p in initial_points], y=[p[1] for p in initial_points], mode="markers",
    name="initial (1000)", legendrank=1,
    marker=dict(color="#008000", size=7.2, line=dict(color="rgba(0,50,0,0.8)", width=0.6)),
))
fig.add_trace(go.Scatter(
    x=drifter_lon, y=drifter_lat, mode="lines", name="In situ drifter", legendrank=3,
    line=dict(color="#ff0000", width=3, shape="spline", smoothing=0.8),
))
fig.add_trace(go.Scatter(
    x=[drifter_end[0]], y=[drifter_end[1]], mode="markers",
    marker=dict(color="#ff0000", size=15), hoverinfo="skip", showlegend=False,
))
# keeps the right hand latitude axis alive
fig.add_trace(go.Scatter(x=[None], y=[None], yaxis="y2", showlegend=False, hoverinfo="skip"))

font = dict(family="DejaVu Sans", size=13.6, color="black")
title_font = dict(family="DejaVu Sans", size=16.75, color="black")
fig.update_layout(
    width=1090,
    height=854,
    margin=dict(l=66, r=65, t=47, b=31, autoexpand=False),
    plot_bgcolor="white",
    paper_bgcolor="white",
    font=font,
    shapes=shapes,
    annotations=[
        dict(text=title_lines[0], x=0.5, y=1, xref="paper", yref="paper", xanchor="center", yanchor="middle",
             yshift=33, showarrow=False, font=title_font),
        dict(text=title_lines[1], x=0.5, y=1, xref="paper", yref="paper", xanchor="center", yanchor="middle",
             yshift=13, showarrow=False, font=title_font),
    ],
    xaxis=dict(
        range=lon_range, tickvals=lon_ticks, ticktext=lon_labels, tickangle=0, automargin=False,
        showgrid=True, gridcolor="#b0b0b0", gridwidth=1, zeroline=False, ticks="",
        showline=True, linecolor="black", linewidth=1, mirror=True, ticklabelstandoff=1,
    ),
    yaxis=dict(
        range=lat_range, tickvals=lat_ticks, ticktext=lat_labels, automargin=False,
        showgrid=True, gridcolor="#b0b0b0", gridwidth=1, zeroline=False, ticks="",
        showline=True, linecolor="black", linewidth=1, mirror=True, ticklabelstandoff=6,
    ),
    yaxis2=dict(
        range=lat_range, tickvals=lat_ticks, ticktext=lat_labels, overlaying="y", side="right", automargin=False,
        showgrid=False, zeroline=False, ticks="", ticklabelstandoff=6,
    ),
    legend=dict(
        x=0.9927, xanchor="right", y=0.9925, yanchor="top",
        bgcolor="rgba(255,255,255,0.8)", bordercolor="#cccccc", borderwidth=1,
        font=dict(family="DejaVu Sans", size=13.8), itemwidth=30,
    ),
)

# the page should start at the window corner, no default body margin
fig.write_html("out.html", config={"displayModeBar": False},
               post_script="document.body.style.margin = '0';")
